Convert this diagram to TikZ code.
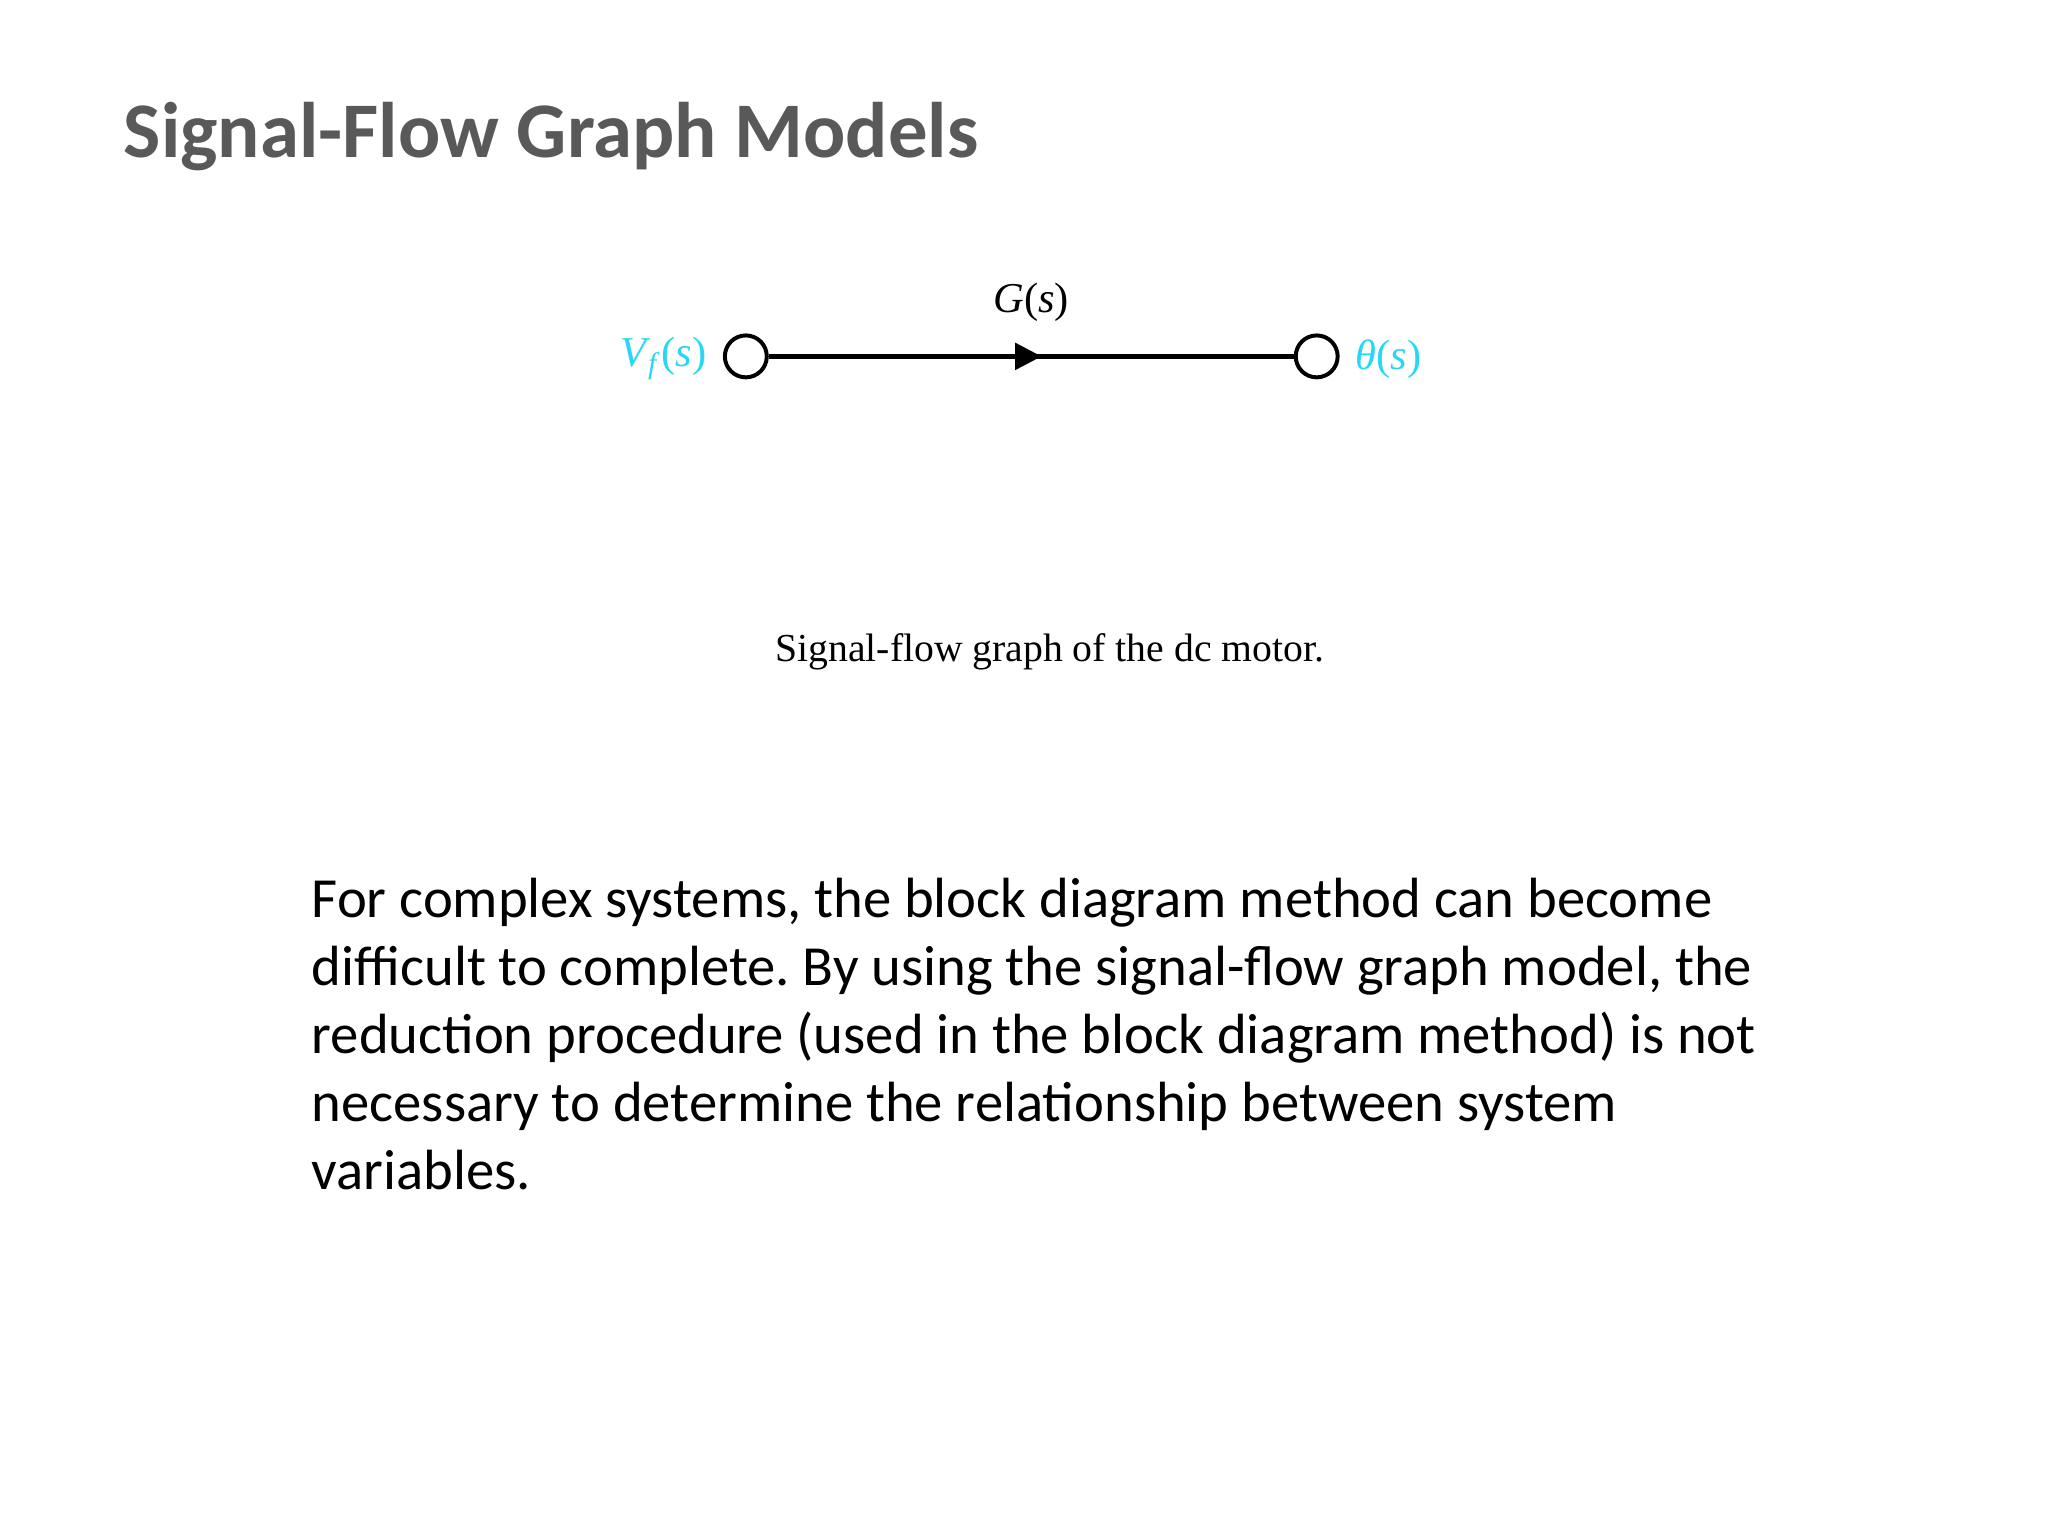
\documentclass[tikz,border=0pt]{standalone}
\usepackage{fontspec}
\setmainfont{Carlito}
\newfontfamily\timesfont{Liberation Serif}
\usetikzlibrary{positioning,calc,arrows.meta,decorations.markings}
\definecolor{titlegray}{RGB}{89,89,89}
\definecolor{sigcyan}{RGB}{40,215,245}
\frenchspacing
\tikzset{
  sfnode/.style={circle,draw,line width=1.4pt,minimum size=0.52cm,inner sep=0},
  siglab/.style={text=sigcyan,inner sep=0,font=\timesfont\fontsize{15}{17}\selectfont},
  branch/.style={line width=2pt,postaction={decorate},
    decoration={markings,mark=at position 0.52 with {\arrow{Triangle[length=0.33cm,width=0.32cm]}}}}
}
\begin{document}
\begin{tikzpicture}
  \useasboundingbox[fill=white] (0,0) rectangle (25.4,-19.05);
  \node[anchor=base west,inner sep=0,text=titlegray,font=\bfseries\fontsize{27.8}{34}\selectfont] (title) at (1.53,-1.95) {Signal-Flow Graph Models};
  % signal-flow graph
  \node[sfnode] (vf) at (9.25,-4.42) {};
  \node[sfnode] (th) at (16.33,-4.42) {};
  \draw[branch] (vf) -- (th);
  \coordinate (mid) at ($(vf)!0.5!(th)$);
  \node[siglab,left=0.2cm of vf,yshift=-0.03cm] (vflab) {\textit{V}\textsubscript{\kern-0.08em\textit{f}}(\textit{s})};
  \node[siglab,right=0.19cm of th,yshift=-0.03cm] (thlab) {\textit{θ}(\textit{s})};
  \node[siglab,text=black,above=0.42cm of mid] (gain) {\textit{G}(\textit{s})};
  \node[anchor=base,inner sep=0,font=\timesfont\fontsize{14}{16}\selectfont] (caption) at (13.02,-8.21) {Signal-flow graph of the dc motor.};
  % text
  \node[anchor=north west,align=left,inner sep=0,font=\fontsize{20}{24}\selectfont] (body) at (3.86,-10.88) {For complex systems, the block diagram method can become\\
    difficult to complete. By using the signal-flow graph model, the\\
    reduction procedure (used in the block diagram method) is not\\
    necessary to determine the relationship between system\\
    variables.};
\end{tikzpicture}
\end{document}
